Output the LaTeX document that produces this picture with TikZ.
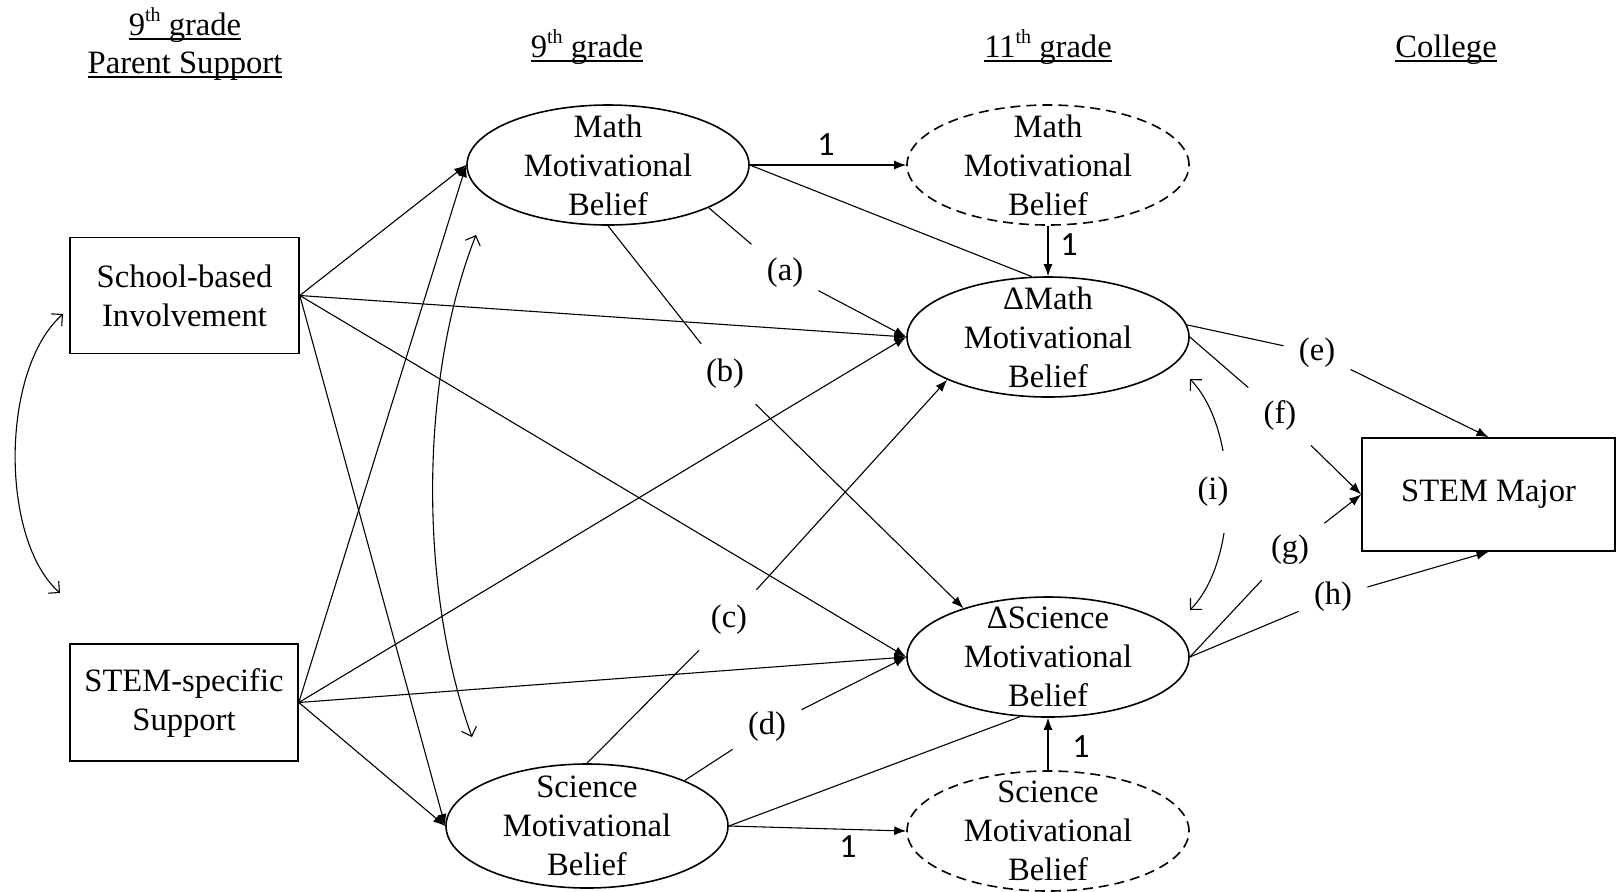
\documentclass[tikz,border=0pt]{standalone}
\usepackage{fontspec}
\setmainfont{Liberation Serif}
\newfontfamily\onefont{Carlito}
\usetikzlibrary{shapes.geometric,arrows.meta}
\newcommand{\bodysz}{\fontsize{16.3}{19.5}\selectfont}
\newcommand{\hul}[1]{\leavevmode\setbox0\hbox{#1}\rlap{\rule[-2.3pt]{\wd0}{0.9pt}}\box0}
\newcommand{\supth}[1]{\raisebox{0.42em}{\fontsize{10}{10}\selectfont #1}}
\begin{document}
\begin{tikzpicture}[x=0.5pt,y=-0.5pt,
  every node/.style={font=\bodysz},
  lat/.style={ellipse,draw,line width=0.8pt,minimum width=141pt,minimum height=60pt,inner sep=0pt,fill=white},
  dlat/.style={lat,dash pattern=on 5pt off 3pt},
  obs/.style={rectangle,draw,line width=0.8pt,inner sep=0pt,fill=white},
  txt/.style={align=center,inner sep=0pt},
  hdr/.style={inner sep=0pt,anchor=base},
  dpath/.style={line width=0.55pt,-{Latex[length=6pt,width=4.5pt]}},
  undir/.style={line width=0.55pt},
  cov/.style={line width=0.55pt,{Straight Barb[length=4pt,width=8pt]}-{Straight Barb[length=4pt,width=8pt]}},
  glab/.style={inner sep=7.5pt},
  onel/.style={inner sep=0pt,font=\onefont\fontsize{17}{18}\selectfont},
]
\useasboundingbox (0,0) rectangle (1616,891);

% headers
\node[hdr] (h1a) at (185,35) {\hul{9\supth{th} grade}};
\node[hdr] (h1b) at (185,73) {\hul{Parent Support}};
\node[hdr] (h2) at (587,57) {\hul{9\supth{th} grade}};
\node[hdr] (h3) at (1048,57) {\hul{11\supth{th} grade}};
\node[hdr] (h4) at (1446,57) {\hul{College}};

% observed boxes
\node[obs,minimum width=114.5pt,minimum height=58pt] (sbi) at (184.5,295.5) {};
\node[txt] (sbit) at (sbi) {School-based\\Involvement};
\node[obs,minimum width=114pt,minimum height=58.5pt] (ss) at (184,702.5) {};
\node[txt] (sst) at (ss) {STEM-specific\\Support};
\node[obs,minimum width=126.5pt,minimum height=56.5pt] (stem) at (1488.5,494.5) {};
\node[txt] (stemt) at (stem) {STEM Major};

% latent ellipses
\node[lat] (m9) at (608,165) {};
\node[txt] (m9t) at (m9) {Math\\Motivational\\Belief};
\node[dlat] (m11) at (1048,165) {};
\node[txt] (m11t) at (m11) {Math\\Motivational\\Belief};
\node[lat] (dm) at (1048,337) {};
\node[txt] (dmt) at (dm) {ΔMath\\Motivational\\Belief};
\node[lat] (ds) at (1048,657) {};
\node[txt] (dst) at (ds) {ΔScience\\Motivational\\Belief};
\node[lat,minimum height=62pt] (s9) at (587,826) {};
\node[txt] (s9t) at (s9) {Science\\Motivational\\Belief};
\node[dlat] (s11) at (1048,831) {};
\node[txt] (s11t) at (s11) {Science\\Motivational\\Belief};

% path labels
\node[glab] (la) at (785,273) {(a)};
\node[glab] (lb) at (725,374) {(b)};
\node[glab] (lc) at (729,620) {(c)};
\node[glab] (ld) at (767,727) {(d)};
\node[glab] (le) at (1317,353) {(e)};
\node[glab] (lf) at (1280,415) {(f)};
\node[glab] (lg) at (1290,550) {(g)};
\node[glab] (lh) at (1333,597) {(h)};

% fixed loadings
\node[onel] (o1) at (826,145) {1};
\node[onel] (o2) at (1069,245) {1};
\node[onel] (o3) at (1081,747) {1};
\node[onel] (o4) at (848,847) {1};

% parent support paths
\draw[dpath] (sbi.east) -- (m9.west);
\draw[dpath] (sbi.east) -- (dm.west);
\draw[dpath] (sbi.east) -- (ds.west);
\draw[dpath] (sbi.east) -- (s9.west);
\draw[dpath] (ss.east) -- (m9.west);
\draw[dpath] (ss.east) -- (dm.west);
\draw[dpath] (ss.east) -- (ds.west);
\draw[dpath] (ss.east) -- (s9.west);

% latent change structure
\draw[dpath] (m9.east) -- (m11.west);
\draw[undir] (m9.east) -- (dm.105);
\draw[dpath] (m11.south) -- (dm.north);
\draw[dpath] (s11.north) -- (ds.south);
\draw[dpath] (s9.east) -- (s11.west);
\draw[undir] (s9.east) -- (ds.245);

% cross-lagged paths
\draw[dpath] (m9.337) -- (la) -- (dm.west);
\draw[dpath] (m9.south) -- (lb) -- (ds.150);
\draw[dpath] (s9.north) -- (lc) -- (dm.203);
\draw[dpath] (s9.25) -- (ld) -- (ds.west);

% outcome paths
\draw[dpath] (dm.5) -- (le) -- (stem.north);
\draw[dpath] (dm.east) -- (lf) -- (stem.west);
\draw[dpath] (ds.east) -- (lg) -- (stem.west);
\draw[dpath] (ds.east) -- (lh) -- (stem.south);

% covariances
\coordinate (cl1) at (63,314);
\coordinate (cl2) at (60,593);
\draw[cov] (cl1) .. controls (0,370) and (0,540) .. (cl2);
\coordinate (cm1) at (476,235);
\coordinate (cm2) at (472,737);
\draw[cov] (cm1) .. controls (419,380) and (419,590) .. (cm2);
\coordinate (cr1) at (1190,379);
\coordinate (cr2) at (1190,610);
\draw[cov] (cr1) .. controls (1239,430) and (1239,560) .. (cr2);
\node[fill=white,inner xsep=3pt,inner ysep=13pt] (li) at (1213,492) {(i)};
\end{tikzpicture}
\end{document}
